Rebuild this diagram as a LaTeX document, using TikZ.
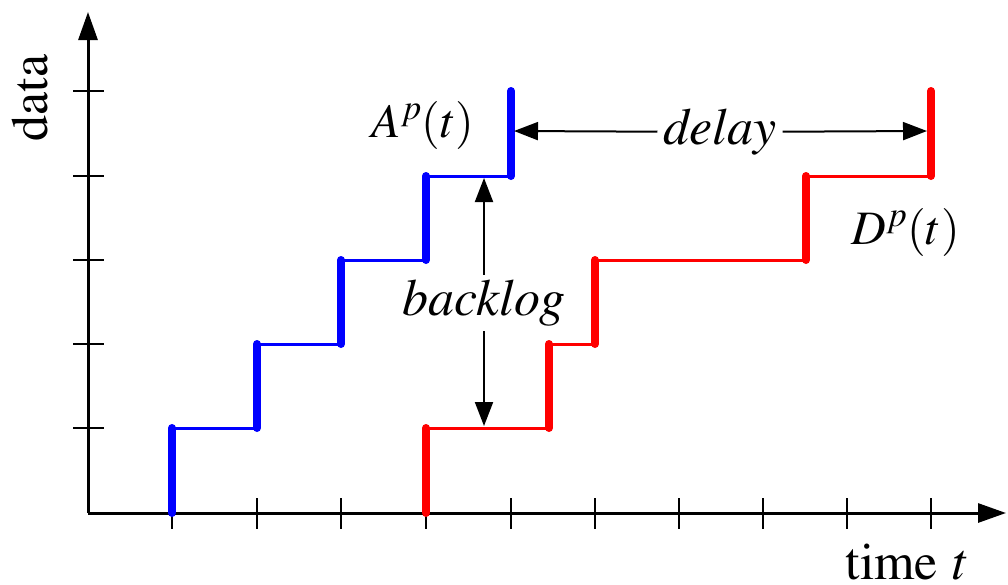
\documentclass[tikz,border=0pt]{standalone}
\usepackage[T1]{fontenc}
\usepackage{mathptmx}
\usetikzlibrary{arrows.meta}
\begin{document}
\begin{tikzpicture}[x=1pt,y=-1pt,
  axis/.style={line width=3pt,-{Triangle[length=28pt,width=19pt]}},
  tick/.style={line width=2pt},
  thinb/.style={draw=blue,line width=3pt},
  thickb/.style={draw=blue,line width=8pt,line cap=round},
  thinr/.style={draw=red,line width=3pt},
  thickr/.style={draw=red,line width=8pt,line cap=round},
  marr/.style={line width=2pt,-{Triangle[length=24pt,width=18pt]}},
  lbl/.style={font=\fontsize{52}{56}\selectfont,inner sep=0pt},
  mlbl/.style={font=\fontsize{48}{52}\selectfont,inner sep=0pt}]
\useasboundingbox (0,0) rectangle (1008,584);
\coordinate (O) at (88,513);
\draw[axis] (O) -- (1006,513);
\draw[axis] (O) -- (88,12);
\foreach \x in {172,257,341,426,511,595,679,763,847,931}
  \draw[tick] (\x,498) -- (\x,529);
\foreach \y in {428,344,260,176,91}
  \draw[tick] (73,\y) -- (104,\y);
% blue staircase
\draw[thinb] (172,428) -- (257,428);
\draw[thinb] (257,344) -- (341,344);
\draw[thinb] (341,260) -- (426,260);
\draw[thinb] (426,176) -- (511,176);
\draw[thickb] (172,513) -- (172,428);
\draw[thickb] (257,428) -- (257,344);
\draw[thickb] (341,344) -- (341,260);
\draw[thickb] (426,260) -- (426,176);
\draw[thickb] (511,176) -- (511,91);
% red staircase
\draw[thinr] (426,428) -- (549,428);
\draw[thinr] (549,344) -- (595,344);
\draw[thinr] (595,260) -- (806,260);
\draw[thinr] (806,176) -- (931,176);
\draw[thickr] (426,513) -- (426,428);
\draw[thickr] (549,428) -- (549,344);
\draw[thickr] (595,344) -- (595,260);
\draw[thickr] (806,260) -- (806,176);
\draw[thickr] (931,176) -- (931,91);
% measurements
\coordinate (bt) at (484,178);
\coordinate (bb) at (484,426);
\coordinate (dl) at (514,131);
\coordinate (dr) at (927,131);
\node[lbl,fill=white,inner sep=5pt] (backlog) at (484,303) {\textit{backlog}};
\node[lbl,fill=white,inner sep=6pt] (delay) at (720,132) {\textit{delay}};
\draw[marr] (backlog) -- (bt);
\draw[marr] (backlog) -- (bb);
\draw[marr] (delay) -- (dl);
\draw[marr] (delay) -- (dr);
% labels
\node[mlbl] (A) at (423,125) {$A^p(t)$};
\node[mlbl] (D) at (906,232) {$D^p(t)$};
\node[lbl,rotate=90] (data) at (30,98) {data};
\node[lbl,anchor=base] (time) at (906,579) {time \textit{t}};
\end{tikzpicture}
\end{document}
